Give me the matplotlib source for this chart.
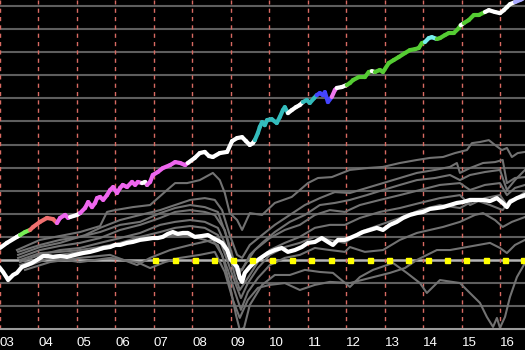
import numpy as np
import matplotlib
matplotlib.use('Agg')
import matplotlib.pyplot as plt
from matplotlib.collections import LineCollection

plt.rcParams['font.family'] = ['Liberation Sans', 'DejaVu Sans']

# strategy equity line (colored by regime)
strat_t = [2003.00, 2003.18, 2003.44, 2003.52, 2003.65, 2003.78, 2003.86, 2004.04, 2004.22, 2004.38,
           2004.48, 2004.56, 2004.69, 2004.77, 2004.82, 2005.00, 2005.08, 2005.21, 2005.29, 2005.39,
           2005.47, 2005.52, 2005.60, 2005.68, 2005.78, 2005.86, 2005.94, 2006.04, 2006.12, 2006.19,
           2006.30, 2006.43, 2006.51, 2006.58, 2006.69, 2006.77, 2006.82, 2006.90, 2006.97, 2007.10,
           2007.23, 2007.42, 2007.55, 2007.68, 2007.81, 2007.88, 2008.06, 2008.19, 2008.32, 2008.43,
           2008.53, 2008.71, 2008.90, 2009.03, 2009.16, 2009.29, 2009.39, 2009.49, 2009.57, 2009.62,
           2009.70, 2009.75, 2009.81, 2009.88, 2009.94, 2010.06, 2010.19, 2010.27, 2010.35, 2010.40,
           2010.48, 2010.58, 2010.69, 2010.79, 2010.87, 2010.97, 2011.05, 2011.16, 2011.23, 2011.31,
           2011.39, 2011.44, 2011.52, 2011.62, 2011.70, 2011.75, 2011.88, 2012.01, 2012.09, 2012.17,
           2012.32, 2012.48, 2012.58, 2012.66, 2012.74, 2012.87, 2012.95, 2013.10, 2013.23, 2013.36,
           2013.52, 2013.65, 2013.78, 2013.88, 2013.96, 2014.04, 2014.14, 2014.22, 2014.35, 2014.43,
           2014.56, 2014.66, 2014.79, 2014.92, 2014.97, 2015.05, 2015.18, 2015.31, 2015.44, 2015.60,
           2015.70, 2015.86, 2015.99, 2016.09, 2016.17, 2016.25, 2016.38, 2016.51, 2016.64]
strat_v = [0.52, 0.74, 1.00, 1.08, 1.21, 1.30, 1.43, 1.65, 1.82, 1.77,
           1.60, 1.82, 1.95, 1.82, 1.86, 1.95, 2.03, 2.25, 2.51, 2.29,
           2.47, 2.68, 2.73, 2.60, 2.81, 3.03, 3.16, 2.90, 3.12, 3.25,
           3.16, 3.38, 3.25, 3.38, 3.33, 3.38, 3.25, 3.38, 3.68, 3.81,
           3.98, 4.11, 4.24, 4.20, 4.11, 4.20, 4.42, 4.63, 4.68, 4.50,
           4.46, 4.63, 4.68, 5.15, 5.28, 5.32, 5.15, 4.98, 5.06, 5.19,
           5.50, 5.76, 5.97, 5.84, 6.06, 6.10, 5.93, 6.19, 6.49, 6.62,
           6.36, 6.49, 6.62, 6.71, 6.84, 6.93, 6.80, 7.01, 7.14, 7.23,
           7.14, 7.27, 6.84, 7.06, 7.36, 7.45, 7.49, 7.58, 7.66, 7.79,
           7.92, 7.92, 8.14, 8.18, 8.14, 8.23, 8.14, 8.53, 8.66, 8.79,
           8.96, 9.09, 9.13, 9.18, 9.39, 9.44, 9.61, 9.65, 9.57, 9.61,
           9.74, 9.83, 9.83, 10.04, 10.17, 10.26, 10.39, 10.61, 10.61, 10.74,
           10.82, 10.74, 10.69, 10.82, 10.95, 11.08, 11.17, 11.26, 11.35]

regime_start = [2003.00, 2003.52, 2003.78, 2004.48, 2004.80, 2005.05, 2006.66, 2006.80, 2007.88, 2009.62,
                2010.53, 2010.92, 2011.26, 2011.65, 2011.75, 2012.04, 2012.64, 2012.71, 2014.01, 2014.35,
                2014.95, 2015.03, 2015.65, 2016.07, 2016.12, 2016.33]
regime_color = ['#ffffff', '#77ee55', '#f07070', '#ee66ee', '#ffffff', '#ee66ee', '#ffffff', '#ee66ee',
                '#ffffff', '#33bbbb', '#ffffff', '#33bbbb', '#4444ff', '#ee77ee', '#ffffff', '#55cc33',
                '#ffffff', '#55cc33', '#77eeee', '#55cc33', '#ffffff', '#55cc33', '#ffffff', '#55cc33',
                '#ffffff', '#aaaaff']

# benchmark
bench_t = [2003.00, 2003.08, 2003.18, 2003.21, 2003.34, 2003.44, 2003.57, 2003.70, 2003.83, 2003.96,
           2004.12, 2004.25, 2004.38, 2004.56, 2004.74, 2004.95, 2005.16, 2005.34, 2005.52, 2005.68,
           2005.86, 2005.99, 2006.12, 2006.30, 2006.45, 2006.64, 2006.82, 2006.97, 2007.10, 2007.23,
           2007.36, 2007.49, 2007.62, 2007.75, 2007.88, 2008.06, 2008.25, 2008.40, 2008.58, 2008.77,
           2008.90, 2008.97, 2009.05, 2009.16, 2009.23, 2009.29, 2009.36, 2009.49, 2009.62, 2009.81,
           2009.96, 2010.14, 2010.32, 2010.48, 2010.66, 2010.84, 2011.00, 2011.18, 2011.36, 2011.52,
           2011.65, 2011.78, 2011.96, 2012.09, 2012.27, 2012.43, 2012.61, 2012.79, 2012.95, 2013.13,
           2013.31, 2013.47, 2013.65, 2013.83, 2013.99, 2014.17, 2014.35, 2014.51, 2014.69, 2014.87,
           2015.03, 2015.21, 2015.39, 2015.55, 2015.73, 2015.91, 2016.06, 2016.17, 2016.25, 2016.43,
           2016.64]
bench_v = [-0.35, -0.52, -0.78, -0.87, -0.65, -0.56, -0.30, -0.22, -0.13, 0.00,
           0.17, 0.17, 0.13, 0.17, 0.13, 0.22, 0.30, 0.35, 0.43, 0.52,
           0.56, 0.65, 0.65, 0.74, 0.78, 0.87, 0.91, 0.95, 0.95, 1.00,
           1.13, 1.21, 1.13, 1.17, 1.17, 1.00, 1.04, 1.08, 0.91, 0.74,
           0.43, 0.09, -0.09, -0.30, -0.78, -0.95, -0.56, -0.30, -0.09, 0.13,
           0.30, 0.43, 0.52, 0.35, 0.43, 0.56, 0.74, 0.78, 0.95, 0.78,
           0.65, 0.87, 0.87, 0.95, 1.08, 1.21, 1.30, 1.39, 1.30, 1.52,
           1.65, 1.82, 1.95, 2.03, 2.08, 2.21, 2.25, 2.29, 2.38, 2.47,
           2.51, 2.60, 2.60, 2.60, 2.55, 2.68, 2.47, 2.29, 2.51, 2.68,
           2.81]

# other series (gray)
g1_t = [2003.44, 2004.04, 2004.56, 2005.08, 2005.60, 2005.78, 2005.99, 2006.45, 2006.90, 2007.34,
        2007.55, 2007.86, 2008.19, 2008.53, 2008.71, 2008.84, 2008.97, 2009.16, 2009.29, 2009.49,
        2009.81, 2010.14, 2010.58, 2011.00, 2011.26, 2011.62, 2012.09, 2012.53, 2012.95, 2013.39,
        2013.83, 2014.17, 2014.51, 2014.82, 2015.13, 2015.26, 2015.47, 2015.70, 2015.86, 2016.04,
        2016.17, 2016.30, 2016.45, 2016.64]
g1_v = [0.43, 0.87, 1.04, 1.21, 1.47, 2.08, 2.16, 2.29, 2.38, 3.03,
        3.33, 3.33, 3.46, 3.77, 3.46, 2.90, 2.03, 1.73, 1.30, 2.03,
        1.95, 2.47, 2.73, 3.33, 3.55, 3.59, 3.90, 3.98, 4.03, 4.20,
        4.33, 4.42, 4.46, 4.63, 4.76, 5.06, 5.11, 5.19, 4.98, 4.76,
        4.85, 4.46, 4.63, 4.68]
g2_t = [2003.47, 2004.04, 2004.56, 2005.21, 2005.60, 2006.12, 2006.64, 2007.16, 2007.55, 2007.94,
        2008.32, 2008.58, 2008.77, 2008.97, 2009.16, 2009.29, 2009.49, 2009.81, 2010.14, 2010.53,
        2010.92, 2011.31, 2011.70, 2012.09, 2012.53, 2012.95, 2013.39, 2013.83, 2014.30, 2014.69,
        2014.87, 2014.95, 2015.21, 2015.55, 2015.86, 2016.06, 2016.17, 2016.38, 2016.64]
g2_v = [0.22, 0.56, 0.74, 1.08, 1.39, 1.73, 1.95, 2.16, 2.38, 2.60,
        2.68, 2.60, 2.16, 1.08, 0.22, 0.09, 0.65, 1.08, 1.52, 1.95,
        2.38, 2.68, 2.94, 2.90, 3.12, 3.33, 3.55, 3.77, 3.90, 4.03,
        4.20, 3.77, 3.98, 4.20, 4.24, 4.33, 3.33, 3.55, 3.59]
g3_t = [2003.47, 2004.04, 2004.56, 2005.08, 2005.60, 2006.12, 2006.64, 2007.16, 2007.55, 2007.94,
        2008.32, 2008.58, 2008.84, 2009.03, 2009.18, 2009.36, 2009.62, 2010.01, 2010.40, 2010.79,
        2011.18, 2011.57, 2011.96, 2012.35, 2012.87, 2013.39, 2013.91, 2014.43, 2014.95, 2015.21,
        2015.60, 2015.99, 2016.17, 2016.38, 2016.64]
g3_v = [0.09, 0.43, 0.61, 0.74, 0.95, 1.30, 1.52, 1.82, 2.08, 2.16,
        2.08, 1.95, 1.30, 0.00, -0.65, -0.22, 0.43, 0.95, 1.30, 1.52,
        1.95, 2.16, 2.08, 2.38, 2.60, 2.81, 3.03, 3.25, 3.33, 3.03,
        3.25, 3.33, 2.81, 3.12, 3.25]
g4_t = [2003.52, 2004.04, 2004.56, 2005.08, 2005.60, 2006.12, 2006.64, 2007.16, 2007.55, 2007.94,
        2008.32, 2008.66, 2008.92, 2009.10, 2009.23, 2009.44, 2009.70, 2010.01, 2010.40, 2010.79,
        2011.18, 2011.57, 2011.96, 2012.35, 2012.87, 2013.39, 2013.91, 2014.43, 2014.95, 2015.21,
        2015.60, 2015.99, 2016.17, 2016.64]
g4_v = [-0.09, 0.22, 0.43, 0.52, 0.74, 0.95, 1.17, 1.52, 1.65, 1.73,
        1.65, 1.39, 0.43, -0.65, -1.30, -0.78, -0.09, 0.43, 0.74, 1.00,
        1.39, 1.52, 1.52, 1.82, 2.08, 2.25, 2.47, 2.68, 2.81, 2.38,
        2.68, 2.81, 2.38, 2.94]
g5_t = [2003.52, 2004.04, 2004.56, 2005.08, 2005.60, 2006.12, 2006.64, 2007.16, 2007.55, 2007.94,
        2008.32, 2008.66, 2008.92, 2009.13, 2009.26, 2009.44, 2009.70, 2010.01, 2010.40, 2010.79,
        2011.18, 2011.57, 2011.96, 2012.09, 2012.48, 2012.95, 2013.39, 2013.83, 2014.17, 2014.51,
        2014.95, 2015.34, 2015.55, 2015.86, 2016.06, 2016.30, 2016.64]
g5_v = [-0.22, 0.09, 0.22, 0.35, 0.43, 0.65, 0.87, 0.95, 1.08, 1.04,
        0.87, 0.65, -0.43, -1.52, -2.16, -1.39, -0.78, -0.22, 0.09, 0.22,
        0.52, 0.43, 0.35, 0.56, 0.35, 0.43, 0.87, 1.17, 1.30, 1.43,
        1.65, 1.95, 2.03, 1.73, 1.43, 1.65, 1.86]
g6_t = [2003.57, 2004.30, 2005.08, 2005.86, 2006.56, 2006.90, 2007.29, 2007.68, 2008.19, 2008.58,
        2008.84, 2009.05, 2009.23, 2009.44, 2009.70, 2010.01, 2010.40, 2010.79, 2011.18, 2011.57,
        2012.09, 2012.61, 2013.13, 2013.52, 2013.83, 2014.35, 2014.69, 2015.13, 2015.73, 2015.99,
        2016.17, 2016.38, 2016.64]
g6_v = [-0.35, 0.09, -0.09, 0.09, -0.09, -0.35, -0.09, 0.09, 0.22, 0.35,
        -0.52, -1.73, -2.51, -1.73, -1.21, -1.08, -1.00, -1.30, -1.08, -0.95,
        -1.00, -0.78, -0.56, -0.35, 0.00, 0.43, 0.43, 0.56, 0.74, 0.52,
        0.30, 0.65, 0.87]
g7_t = [2003.65, 2004.30, 2005.08, 2005.86, 2006.56, 2006.90, 2007.42, 2007.94, 2008.53, 2008.77,
        2008.97, 2009.13, 2009.23, 2009.34, 2009.49, 2009.81, 2010.14, 2010.53, 2010.92, 2011.31,
        2011.65, 2012.09, 2012.35, 2012.69, 2013.21, 2013.57, 2013.91, 2014.09, 2014.43, 2014.95,
        2015.13, 2015.47, 2015.65, 2015.81, 2015.91, 2015.99, 2016.12, 2016.25, 2016.43, 2016.64]
g7_v = [-0.43, -0.09, 0.09, 0.22, -0.22, 0.09, 0.43, 0.65, 0.87, 0.22,
        -1.08, -2.38, -3.03, -2.94, -1.95, -1.08, -0.65, -0.65, -0.43, -0.52,
        -0.56, -1.17, -0.74, -0.43, -0.13, -0.56, -1.00, -1.43, -0.87, -1.00,
        -1.30, -1.86, -2.47, -2.90, -2.51, -2.94, -2.47, -1.60, -0.74, -0.13]
g8_t = [2003.47, 2004.04, 2004.56, 2005.08, 2005.60, 2006.12, 2006.64, 2007.16, 2007.55, 2007.94,
        2008.32, 2008.66, 2008.92, 2009.13, 2009.29, 2009.49, 2009.81, 2010.14, 2010.53, 2010.92,
        2011.31, 2011.70, 2012.09, 2012.53, 2012.95, 2013.39, 2013.83, 2014.30, 2014.69, 2014.95,
        2015.21, 2015.60, 2015.99, 2016.17, 2016.38, 2016.64]
g8_v = [0.35, 0.65, 0.87, 1.00, 1.21, 1.52, 1.65, 2.03, 2.25, 2.38,
        2.29, 2.08, 0.87, -0.35, -0.43, 0.22, 0.74, 1.21, 1.65, 1.95,
        2.38, 2.47, 2.60, 2.81, 3.03, 3.25, 3.46, 3.55, 3.68, 3.46,
        3.68, 3.81, 3.90, 3.03, 3.46, 3.90]
g9_t = [2003.52, 2004.04, 2004.56, 2005.08, 2005.60, 2006.12, 2006.64, 2007.16, 2007.55, 2007.94,
        2008.32, 2008.66, 2008.92, 2009.13, 2009.26, 2009.44, 2009.70, 2010.01, 2010.40, 2010.79,
        2011.18, 2011.57, 2011.96, 2012.35, 2012.87, 2013.39, 2013.91, 2014.43, 2014.95, 2015.34,
        2015.73, 2016.06, 2016.25, 2016.64]
g9_v = [0.00, 0.30, 0.35, 0.43, 0.56, 0.74, 1.00, 1.21, 1.39, 1.47,
        1.39, 1.08, -0.09, -1.08, -1.65, -1.00, -0.35, 0.22, 0.56, 0.74,
        1.00, 0.87, 0.74, 1.21, 1.52, 1.82, 2.16, 2.38, 2.25, 2.60,
        2.38, 2.16, 2.60, 2.73]

gray_lines = [(g1_t, g1_v), (g2_t, g2_v), (g3_t, g3_v), (g4_t, g4_v), (g5_t, g5_v),
              (g6_t, g6_v), (g7_t, g7_v), (g8_t, g8_v), (g9_t, g9_v)]

# rebalance markers on the zero line
marker_t = [2007.03, 2007.55, 2008.06, 2008.55, 2009.06, 2009.56, 2010.06, 2010.58, 2011.08, 2011.59,
            2012.09, 2012.60, 2013.10, 2013.61, 2014.11, 2014.62, 2015.12, 2015.62, 2016.12, 2016.60]

years = list(range(2003, 2017))
year_labels = ['03', '04', '05', '06', '07', '08', '09', '10', '11', '12', '13', '14', '15', '16']

fig = plt.figure(figsize=(5.25, 3.5), dpi=100, facecolor='black')
ax = fig.add_axes([0, 21 / 350, 1, 329 / 350])
ax.set_facecolor('black')
ax.set_xlim(2003, 2016.64)
ax.set_ylim(-2.99, 11.26)

# grid
for v in range(-2, 12):
    if v == 0:
        ax.axhline(v, color='#b4b4b4', lw=1.8, zorder=1)
    else:
        ax.axhline(v, color='#5e5e5e', lw=1.5, zorder=1)
for yr in years:
    ax.axvline(yr, color='#d86a62', lw=1.0, ls=(0, (3, 3)), zorder=1)

for t, v in gray_lines:
    ax.plot(t, v, color='#727272', lw=1.5, zorder=2)

ax.plot(bench_t, bench_v, color='white', lw=3.0, zorder=3, solid_joinstyle='round')

# colored strategy line
pts = np.column_stack([strat_t, strat_v])
segs = np.stack([pts[:-1], pts[1:]], axis=1)
mids = (np.array(strat_t[:-1]) + np.array(strat_t[1:])) / 2
idx = np.searchsorted(regime_start, mids, side='right') - 1
cols = [regime_color[i] for i in idx]
lc = LineCollection(segs, colors=cols, linewidths=3.0, capstyle='round', joinstyle='round', zorder=4)
ax.add_collection(lc)

ax.plot(marker_t, [0] * len(marker_t), ls='none', marker='s', ms=3.6, color='#ffff00', zorder=5)

for s in ['top', 'left', 'right']:
    ax.spines[s].set_visible(False)
ax.spines['bottom'].set_color('#9a9a9a')
ax.spines['bottom'].set_linewidth(1.5)
ax.set_yticks([])
ax.set_xticks(years)
ax.set_xticklabels(year_labels, ha='left', color='white', fontsize=9.5)
ax.tick_params(axis='x', length=0, pad=6)

fig.savefig('out.png', dpi=100, facecolor='black')
